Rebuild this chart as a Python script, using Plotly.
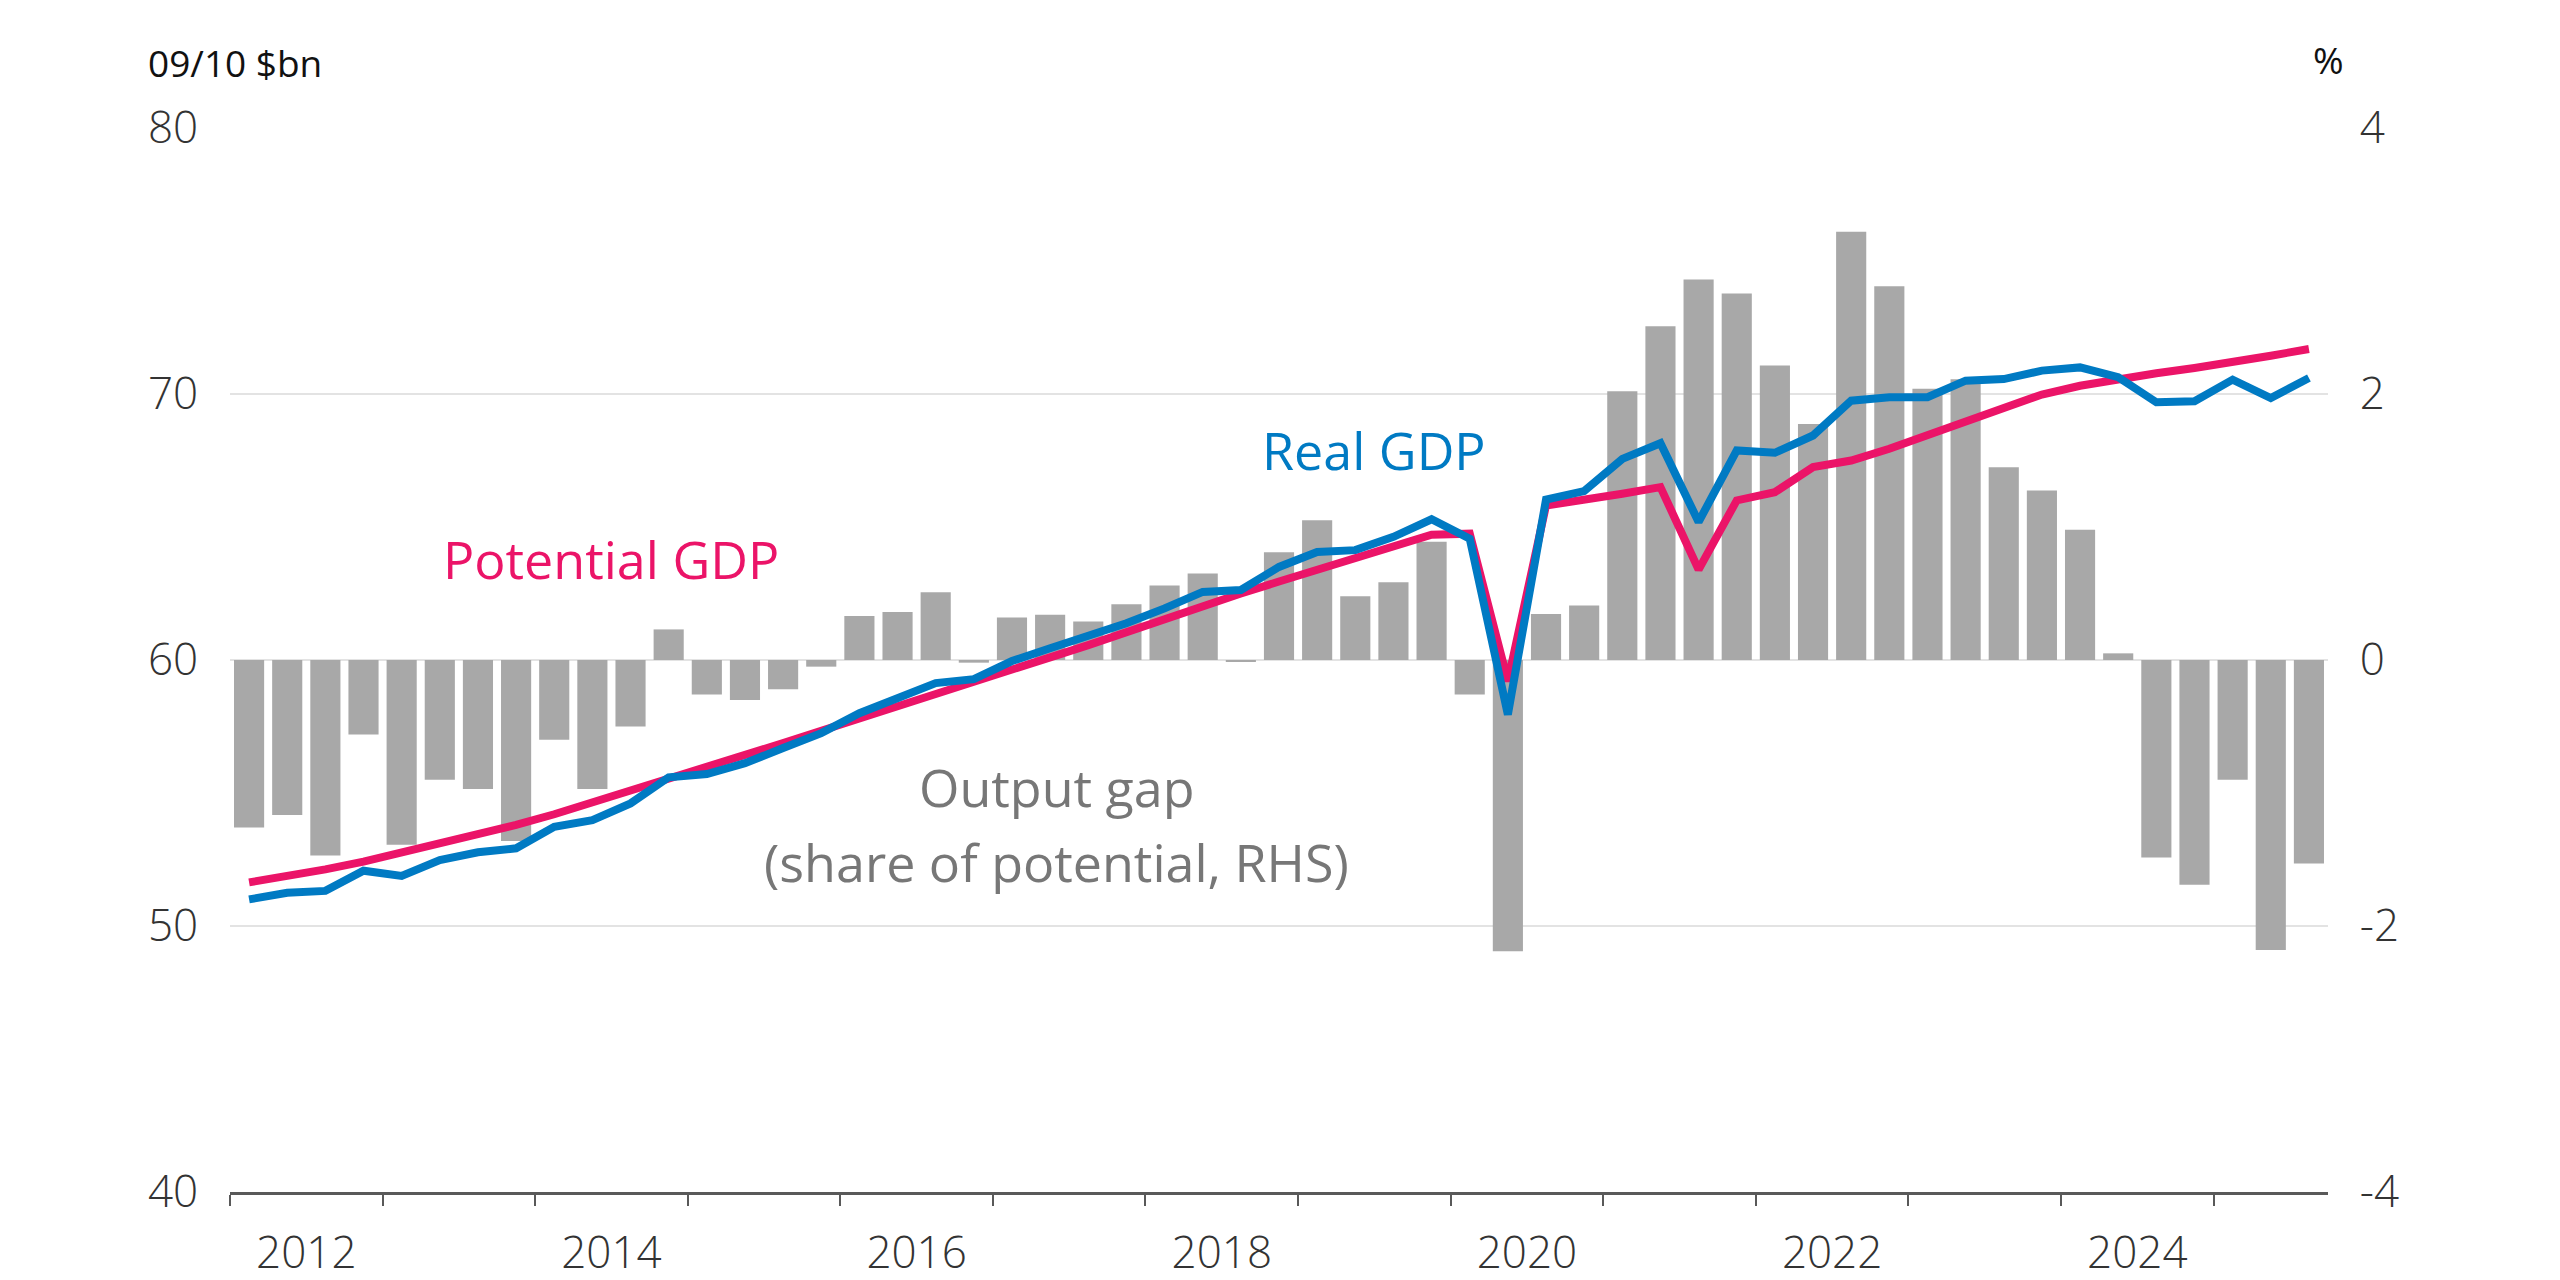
import plotly.graph_objects as go

# Quarterly periods 2012Q1 .. 2025Q3
years = [y for y in range(2012, 2026) for _ in range(4)][:55]
quarters = [q for _ in range(2012, 2026) for q in (1, 2, 3, 4)][:55]

output_gap = [-1.26, -1.165, -1.47, -0.56, -1.39, -0.90, -0.97, -1.36, -0.60, -0.97,
              -0.50, 0.23, -0.26, -0.30, -0.22, -0.05, 0.33, 0.36, 0.51, -0.02,
              0.32, 0.34, 0.29, 0.42, 0.56, 0.65, -0.01, 0.81, 1.05, 0.48,
              0.585, 0.89, -0.26, -2.19, 0.345, 0.41, 2.02, 2.51, 2.86, 2.755,
              2.215, 1.775, 3.22, 2.81, 2.04, 2.11, 1.45, 1.275, 0.98, 0.05,
              -1.485, -1.69, -0.90, -2.18, -1.53]

potential_gdp = [51.64, 51.85, 52.13, 52.42, 52.76, 53.07, 53.42, 53.80, 54.20, 54.64,
                 55.05, 55.49, 55.93, 56.40, 56.88, 57.34, 57.81, 58.29, 58.75, 59.19,
                 59.63, 60.10, 60.56, 61.05, 61.54, 62.06, 62.50, 62.95, 63.40, 63.81,
                 64.25, 64.71, 64.75, 59.20, 65.81, 66.00, 66.25, 66.50, 63.40, 66.00,
                 66.31, 67.25, 67.50, 67.94, 68.44, 69.00, 69.50, 69.98, 70.31, 70.56,
                 70.78, 70.98, 71.19, 71.44, 71.69]

real_gdp = [51.00, 51.25, 51.32, 52.08, 51.88, 52.48, 52.77, 52.92, 53.73, 53.98,
            54.61, 55.59, 55.71, 56.12, 56.69, 57.25, 58.00, 58.56, 59.13, 59.28,
            59.96, 60.44, 60.88, 61.38, 61.94, 62.56, 62.63, 63.50, 64.06, 64.13,
            64.63, 65.29, 64.56, 57.95, 66.03, 66.35, 67.56, 68.15, 65.19, 67.88,
            67.79, 68.44, 69.75, 69.88, 69.88, 70.50, 70.56, 70.88, 71.00, 70.63,
            69.69, 69.73, 70.54, 69.85, 70.60]

year_ticks = [2012, 2014, 2016, 2018, 2020, 2022, 2024]
left_ticks = [40, 50, 60, 70, 80]
right_ticks = [-4, -2, 0, 2, 4]

x = [y + (q - 0.5) / 4 for y, q in zip(years, quarters)]

PINK = "#EB1468"
BLUE = "#007AC3"
GREY_BAR = "#A8A8A8"
FONT = "Open Sans"

fig = go.Figure()
fig.add_trace(go.Bar(x=x, y=output_gap, yaxis="y", width=0.25 * 0.79,
                     marker=dict(color=GREY_BAR, line=dict(width=0)), name="Output gap"))
fig.add_trace(go.Scatter(x=x, y=potential_gdp, yaxis="y2", mode="lines",
                         line=dict(color=PINK, width=8), name="Potential GDP"))
fig.add_trace(go.Scatter(x=x, y=real_gdp, yaxis="y2", mode="lines",
                         line=dict(color=BLUE, width=8), name="Real GDP"))

fig.update_layout(
    width=2560, height=1280,
    margin=dict(l=230, r=232, t=128, b=88, autoexpand=False),
    paper_bgcolor="white", plot_bgcolor="white",
    showlegend=False,
    font=dict(family=FONT, color="#333333"),
    xaxis=dict(
        range=[2012, 2012 + 55 / 4],
        automargin=False,
        tickmode="array",
        tickvals=[y + 0.5 for y in year_ticks],
        ticktext=[str(y) for y in year_ticks],
        ticks="outside", ticklen=20, tickcolor="rgba(0,0,0,0)",
        tickfont=dict(size=44, color="#333333", family=FONT, weight=300),
        showgrid=False, zeroline=False,
        showline=True, linecolor="#595959", linewidth=3,
        minor=dict(tickmode="array", tickvals=list(range(2012, 2026)),
                   ticks="outside", ticklen=11, tickwidth=1.5, tickcolor="#595959",
                   showgrid=False),
    ),
    yaxis=dict(
        side="right", range=[-4, 4], tickmode="array", tickvals=right_ticks,
        ticktext=[str(v) for v in right_ticks], automargin=False,
        ticks="outside", ticklen=22, tickcolor="rgba(0,0,0,0)",
        tickfont=dict(size=44, color="#333333", family=FONT, weight=300),
        showgrid=True, gridcolor="#E3E3E3", gridwidth=2, zeroline=False,
    ),
    yaxis2=dict(
        side="left", overlaying="y", range=[40, 80], tickmode="array",
        tickvals=left_ticks, ticktext=[str(v) for v in left_ticks], automargin=False,
        ticks="outside", ticklen=22, tickcolor="rgba(0,0,0,0)",
        tickfont=dict(size=44, color="#333333", family=FONT, weight=300),
        showgrid=False, zeroline=False,
    ),
    bargap=0.2,
)

annotations = [
    dict(text="09/10 $bn", xref="paper", yref="paper", x=-0.0398, y=1.062,
         xanchor="left", yanchor="middle", showarrow=False,
         font=dict(size=37, color="#111111", family=FONT)),
    dict(text="%", xref="paper", yref="paper", x=1.0, y=1.064,
         xanchor="center", yanchor="middle", showarrow=False,
         font=dict(size=37, color="#111111", family=FONT)),
    dict(text="Potential GDP", xref="x", yref="y2", x=2014.5, y=63.83,
         xanchor="center", yanchor="middle", showarrow=False,
         font=dict(size=52, color=PINK, family=FONT)),
    dict(text="Real GDP", xref="x", yref="y2", x=2019.5, y=67.93,
         xanchor="center", yanchor="middle", showarrow=False,
         font=dict(size=52, color=BLUE, family=FONT)),
    dict(text="Output gap", xref="x", yref="y2", x=2017.42, y=55.23,
         xanchor="center", yanchor="middle", showarrow=False,
         font=dict(size=52, color="#777777", family=FONT)),
    dict(text="(share of potential, RHS)", xref="x", yref="y2", x=2017.42, y=52.41,
         xanchor="center", yanchor="middle", showarrow=False,
         font=dict(size=52, color="#777777", family=FONT)),
]
fig.update_layout(annotations=annotations)

fig.write_html("out.html")
